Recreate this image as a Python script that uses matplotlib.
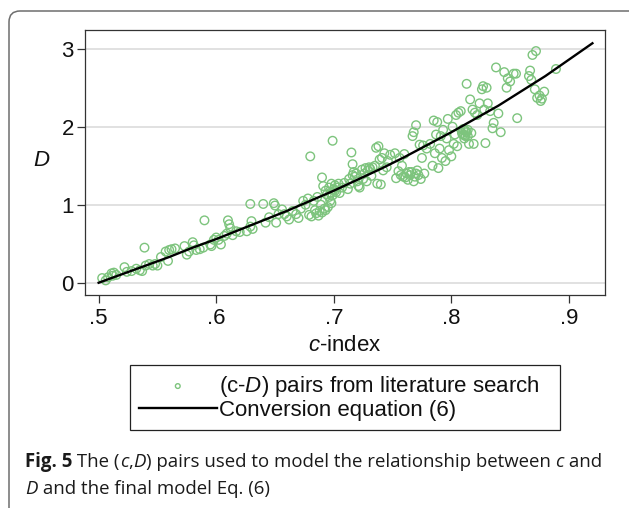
import numpy as np
import matplotlib
matplotlib.use("Agg")
import matplotlib.pyplot as plt
from matplotlib.patches import FancyBboxPatch
from matplotlib.transforms import IdentityTransform

plt.rcParams['font.family'] = ['Liberation Sans', 'DejaVu Sans']
plt.rcParams['mathtext.fontset'] = 'custom'
plt.rcParams['mathtext.rm'] = 'Liberation Sans'
plt.rcParams['mathtext.it'] = 'Liberation Sans:italic'

# (c, D) pairs
c_pairs = [
    0.503, 0.506, 0.508, 0.511, 0.512, 0.513, 0.515, 0.522, 0.524, 0.528,
    0.532, 0.535, 0.537, 0.539, 0.540, 0.543, 0.546, 0.548, 0.550, 0.553,
    0.557, 0.559, 0.560, 0.562, 0.565, 0.573, 0.575, 0.577, 0.580, 0.581,
    0.583, 0.586, 0.589, 0.590, 0.595, 0.596, 0.598, 0.600, 0.602, 0.604,
    0.607, 0.609, 0.610, 0.611, 0.612, 0.614, 0.617, 0.620, 0.626, 0.629,
    0.630, 0.631, 0.629, 0.640, 0.642, 0.645, 0.649, 0.650, 0.651, 0.653,
    0.656, 0.658, 0.660, 0.662, 0.665, 0.668, 0.670, 0.672, 0.674, 0.676,
    0.678, 0.679, 0.680, 0.681, 0.683, 0.685, 0.686, 0.688, 0.689, 0.690,
    0.691, 0.692, 0.694, 0.695, 0.696, 0.697, 0.698, 0.699, 0.700, 0.701,
    0.702, 0.704, 0.705, 0.707, 0.709, 0.712, 0.714, 0.715, 0.716, 0.718,
    0.719, 0.720, 0.721, 0.722, 0.724, 0.725, 0.727, 0.728, 0.730, 0.732,
    0.733, 0.735, 0.736, 0.737, 0.738, 0.739, 0.740, 0.741, 0.742, 0.743,
    0.745, 0.746, 0.748, 0.752, 0.753, 0.755, 0.756, 0.758, 0.759, 0.760,
    0.762, 0.763, 0.765, 0.766, 0.767, 0.768, 0.769, 0.770, 0.771, 0.772,
    0.773, 0.774, 0.775, 0.776, 0.777, 0.779, 0.782, 0.784, 0.785, 0.786,
    0.787, 0.788, 0.789, 0.790, 0.791, 0.792, 0.793, 0.795, 0.796, 0.797,
    0.798, 0.800, 0.801, 0.802, 0.803, 0.804, 0.805, 0.806, 0.808, 0.810,
    0.811, 0.812, 0.813, 0.814, 0.815, 0.816, 0.817, 0.818, 0.819, 0.820,
    0.822, 0.824, 0.826, 0.827, 0.828, 0.829, 0.830, 0.831, 0.833, 0.835,
    0.836, 0.838, 0.840, 0.842, 0.845, 0.847, 0.848, 0.850, 0.853, 0.855,
    0.856, 0.866, 0.867, 0.868, 0.869, 0.871, 0.872, 0.873, 0.875, 0.876,
    0.877, 0.879, 0.889, 0.809, 0.810, 0.812, 0.813, 0.811, 0.814, 0.693,
    0.696, 0.697, 0.699, 0.701, 0.703, 0.698, 0.713, 0.716, 0.717, 0.726,
    0.729, 0.731, 0.757, 0.761, 0.764, 0.768, 0.770, 0.684, 0.687, 0.690,
    0.693,
]
d_pairs = [
    0.06, 0.03, 0.07, 0.12, 0.09, 0.13, 0.10, 0.20, 0.14, 0.15,
    0.18, 0.16, 0.15, 0.45, 0.22, 0.24, 0.22, 0.24, 0.22, 0.33,
    0.40, 0.28, 0.42, 0.43, 0.44, 0.47, 0.36, 0.40, 0.52, 0.48,
    0.42, 0.43, 0.45, 0.80, 0.49, 0.47, 0.55, 0.58, 0.55, 0.49,
    0.60, 0.63, 0.80, 0.75, 0.70, 0.61, 0.66, 0.65, 0.66, 0.72,
    0.79, 0.69, 1.01, 1.01, 0.77, 0.84, 1.02, 0.99, 0.77, 0.88,
    0.94, 0.88, 0.85, 0.81, 0.92, 0.88, 0.83, 0.95, 1.05, 1.00,
    1.08, 0.87, 1.62, 0.85, 1.05, 0.89, 1.10, 0.92, 1.00, 1.35,
    1.24, 0.95, 1.13, 0.97, 1.10, 1.05, 1.02, 1.82, 1.20, 1.25,
    1.16, 1.27, 1.15, 1.22, 1.28, 1.20, 1.27, 1.67, 1.52, 1.36,
    1.40, 1.30, 1.24, 1.22, 1.45, 1.33, 1.47, 1.30, 1.48, 1.37,
    1.48, 1.50, 1.73, 1.27, 1.75, 1.58, 1.26, 1.60, 1.44, 1.66,
    1.48, 1.56, 1.64, 1.66, 1.34, 1.43, 1.60, 1.50, 1.36, 1.65,
    1.40, 1.32, 1.38, 1.42, 1.88, 1.93, 1.36, 2.02, 1.44, 1.38,
    1.77, 1.33, 1.60, 1.76, 1.40, 1.72, 1.78, 1.50, 2.08, 1.66,
    1.90, 2.06, 1.47, 1.72, 1.88, 1.60, 1.96, 1.56, 1.85, 2.10,
    1.70, 1.62, 2.00, 1.78, 1.90, 2.15, 1.75, 2.18, 2.20, 1.90,
    1.85, 1.95, 2.55, 1.88, 1.78, 2.35, 1.92, 2.22, 1.78, 2.18,
    2.15, 2.30, 2.48, 2.52, 2.22, 1.79, 2.50, 2.30, 2.20, 1.98,
    2.05, 2.76, 2.17, 1.93, 2.70, 2.50, 2.62, 2.58, 2.68, 2.68,
    2.11, 2.65, 2.72, 2.60, 2.92, 2.48, 2.97, 2.37, 2.40, 2.33,
    2.36, 2.45, 2.74, 1.92, 1.97, 1.88, 1.93, 1.89, 1.96, 1.18,
    1.22, 1.15, 1.12, 1.18, 1.22, 1.27, 1.33, 1.38, 1.42, 1.40,
    1.44, 1.46, 1.38, 1.35, 1.42, 1.30, 1.40, 0.93, 0.86, 0.90,
    0.93,
]

# conversion equation (6)
c_curve = [0.50, 0.52, 0.54, 0.56, 0.58, 0.60, 0.62, 0.64, 0.66, 0.68, 0.70,
           0.72, 0.74, 0.76, 0.78, 0.80, 0.82, 0.84, 0.86, 0.88, 0.90, 0.92]
d_curve = [0.00, 0.11, 0.22, 0.33, 0.45, 0.56, 0.68, 0.80, 0.92, 1.05, 1.18,
           1.32, 1.46, 1.61, 1.77, 1.93, 2.10, 2.27, 2.46, 2.65, 2.86, 3.07]

x_ticks = [0.5, 0.6, 0.7, 0.8, 0.9]
x_ticklabels = [".5", ".6", ".7", ".8", ".9"]
y_ticks = [0, 1, 2, 3]

W, H = 629, 508
FS = 16
fig = plt.figure(figsize=(W / 100, H / 100), dpi=100)

# outer card with rounded corner (cut by the image edge)
card = FancyBboxPatch((9, -40), 700, H - 11 + 40,
                      boxstyle="round,pad=0,rounding_size=11",
                      transform=IdentityTransform(), facecolor='none',
                      edgecolor='#6e6e6e', linewidth=1.1)
fig.add_artist(card)

ax = fig.add_axes([85 / W, 1 - 295 / H, 520 / W, 265 / H])
ax.set_axisbelow(True)
ax.yaxis.grid(True, color='#dcdcdc', linewidth=1.2)

sc = ax.scatter(c_pairs, d_pairs, s=38, facecolors='none',
                edgecolors='#7dc47d', linewidths=1.0, zorder=2)
ln, = ax.plot(c_curve, d_curve, color='black', linewidth=1.7, zorder=3)

ax.set_xlim(0.4884, 0.9307)
ax.set_ylim(-0.157, 3.24)
ax.set_xticks(x_ticks)
ax.set_xticklabels(x_ticklabels)
ax.set_yticks(y_ticks)
for sp in ax.spines.values():
    sp.set_color('#333333')
    sp.set_linewidth(0.9)
ax.tick_params(axis='both', direction='out', length=6, width=0.9,
               color='#333333', labelsize=FS, labelcolor='#111111')
ax.tick_params(axis='x', pad=3)
ax.tick_params(axis='y', pad=2)

ax.set_xlabel(r"$\mathit{c}$-index", fontsize=FS, color='#111111', labelpad=5)
ax.set_ylabel("D", fontsize=FS, style='italic', rotation=0, color='#111111',
              ha='center', va='center')
ax.yaxis.set_label_coords(-0.083, 0.506)

leg = fig.legend([sc, ln],
                 [r"(c-$\mathit{D}$) pairs from literature search",
                  "Conversion equation (6)"],
                 loc='upper left', bbox_to_anchor=(130 / W, 0, 430 / W, 1 - 365 / H),
                 mode='expand', borderaxespad=0, fontsize=FS,
                 handlelength=3.5, handletextpad=0.1, borderpad=0.4,
                 labelspacing=0.05, markerscale=0.55, scatterpoints=1,
                 fancybox=False, framealpha=1, edgecolor='#222222')
leg.get_frame().set_linewidth(0.9)
for t in leg.get_texts():
    t.set_color('#111111')

# caption built from styled runs
cap_font = ['Open Sans', 'DejaVu Sans']
line1 = [("Fig. 5", 'normal', 'bold'), (" The (", 'normal', 'normal'),
         ("c", 'italic', 'normal'), (",", 'normal', 'normal'),
         ("D", 'italic', 'normal'),
         (") pairs used to model the relationship between ", 'normal', 'normal'),
         ("c", 'italic', 'normal'), (" and", 'normal', 'normal')]
line2 = [("D", 'italic', 'normal'), (" and the final model Eq. (6)", 'normal', 'normal')]

renderer = fig.canvas.get_renderer()


def draw_runs(runs, x0, y0, size):
    x = x0
    for s, style, weight in runs:
        t = fig.text(x, y0, s, transform=IdentityTransform(), fontsize=size,
                     family=cap_font, style=style, weight=weight,
                     va='baseline', ha='left', color='#1a1a1a')
        x += t.get_window_extent(renderer).width
    return x


# fit line 1 to the width seen in the reference
probe = draw_runs(line1, 0, -200, 12) - 0
for t in list(fig.texts):
    t.remove()
cap_size = 12 * 575 / probe
draw_runs(line1, 25, H - 467, cap_size)
draw_runs(line2, 25, H - 494, cap_size)

fig.savefig("out.png", dpi=100)
